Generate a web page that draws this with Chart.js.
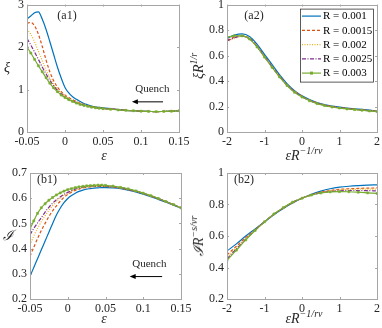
<!DOCTYPE html>
<html>
<head>
<meta charset="utf-8">
<script src="https://cdn.jsdelivr.net/npm/chart.js@4.4.1/dist/chart.umd.min.js"></script>
<style>
  body { margin: 0; background: #fff; }
  #wrap { position: relative; width: 382px; height: 328px; overflow: hidden; font-family: "Liberation Serif", serif; color: #262626; }
  canvas { position: absolute; }
  .lbl { position: absolute; font-size: 12px; white-space: nowrap; line-height: 1; transform: translate(-50%, -50%); }
  .rot { transform: translate(-50%, -50%) rotate(-90deg); }
  .m { font-style: italic; font-size: 14px; }
  .lbl sup { font-size: 10px; vertical-align: 0; position: relative; top: -6px; }
</style>
</head>
<body>
<div id="wrap">
  <canvas id="a1" width="191" height="164" style="left:0;top:0"></canvas>
  <canvas id="a2" width="191" height="164" style="left:191px;top:0"></canvas>
  <canvas id="b1" width="191" height="164" style="left:0;top:164px"></canvas>
  <canvas id="b2" width="191" height="164" style="left:191px;top:164px"></canvas>

  <div class="lbl" style="left:67px;top:15px">(a1)</div>
  <div class="lbl" style="left:254px;top:15px">(a2)</div>
  <div class="lbl" style="left:47px;top:179px">(b1)</div>
  <div class="lbl" style="left:244px;top:179px">(b2)</div>

  <div class="lbl m" style="left:7px;top:68px">ξ</div>
  <div class="lbl m" style="left:104px;top:156px">ε</div>
  <div class="lbl m rot" style="left:199px;top:66px">ξR<sup>1/r</sup></div>
  <div class="lbl m" style="left:304px;top:156px">εR<sup>−1/rν</sup></div>

  <div class="lbl m" style="left:8px;top:236px">ℐ</div>
  <div class="lbl m" style="left:104px;top:319px">ε</div>
  <div class="lbl m rot" style="left:199px;top:236px">ℐR<sup>−s/νr</sup></div>
  <div class="lbl m" style="left:304px;top:319px">εR<sup>−1/rν</sup></div>
</div>
<script>
// series labels and colours (MATLAB default order)
const rLabels = ['R = 0.001', 'R = 0.0015', 'R = 0.002', 'R = 0.0025', 'R = 0.003'];
const colors = ['#0072BD', '#D95319', '#EDB120', '#7E2F8E', '#77AC30'];
const dashes = [[], [3, 2], [1, 1.5], [4, 1.5, 1, 1.5], []];

// (a1) xi vs epsilon
const epsX = [-0.05, -0.045, -0.04, -0.035, -0.03, -0.025, -0.02, -0.015, -0.01, -0.005, 0, 0.005, 0.01, 0.015, 0.02, 0.025, 0.03, 0.035, 0.04, 0.045, 0.05, 0.06, 0.07, 0.08, 0.09, 0.1, 0.11, 0.12, 0.13, 0.14, 0.15];
const a1R1 = [2.66, 2.73, 2.81, 2.83, 2.66, 2.42, 2.13, 1.83, 1.53, 1.27, 1.05, 0.92, 0.83, 0.77, 0.72, 0.67, 0.64, 0.61, 0.59, 0.58, 0.57, 0.55, 0.53, 0.51, 0.5, 0.49, 0.485, 0.48, 0.485, 0.49, 0.5];
const a1R2 = [2.56, 2.58, 2.5, 2.3, 2.02, 1.7, 1.42, 1.21, 1.06, 0.95, 0.87, 0.81, 0.76, 0.72, 0.68, 0.65, 0.62, 0.6, 0.585, 0.57, 0.56, 0.545, 0.53, 0.51, 0.5, 0.49, 0.485, 0.48, 0.485, 0.49, 0.5];
const a1R3 = [2.42, 2.3, 2.12, 1.9, 1.68, 1.46, 1.28, 1.13, 1.01, 0.92, 0.85, 0.79, 0.74, 0.7, 0.67, 0.64, 0.615, 0.595, 0.58, 0.565, 0.555, 0.54, 0.525, 0.51, 0.5, 0.49, 0.485, 0.48, 0.485, 0.49, 0.5];
const a1R4 = [2.2, 2.05, 1.88, 1.71, 1.53, 1.37, 1.22, 1.09, 0.98, 0.9, 0.83, 0.77, 0.73, 0.69, 0.66, 0.63, 0.61, 0.59, 0.575, 0.56, 0.55, 0.54, 0.525, 0.51, 0.5, 0.49, 0.485, 0.48, 0.485, 0.49, 0.5];
const a1R5 = [2.0, 1.86, 1.71, 1.56, 1.42, 1.28, 1.15, 1.04, 0.95, 0.87, 0.81, 0.76, 0.72, 0.68, 0.65, 0.625, 0.605, 0.585, 0.57, 0.56, 0.55, 0.535, 0.52, 0.51, 0.5, 0.49, 0.485, 0.48, 0.485, 0.49, 0.5];

// (a2) scaled xi
const a2X = [-2, -1.8, -1.6, -1.4, -1.2, -1, -0.8, -0.6, -0.4, -0.2, 0, 0.2, 0.4, 0.6, 0.8, 1, 1.2, 1.4, 1.6, 1.8, 2];
const a2R1 = [0.735, 0.76, 0.77, 0.75, 0.69, 0.61, 0.53, 0.45, 0.38, 0.325, 0.285, 0.255, 0.232, 0.215, 0.203, 0.195, 0.188, 0.182, 0.177, 0.171, 0.165];
const a2R2 = [0.72, 0.745, 0.755, 0.735, 0.675, 0.595, 0.515, 0.44, 0.37, 0.318, 0.28, 0.25, 0.228, 0.212, 0.2, 0.192, 0.185, 0.179, 0.174, 0.168, 0.163];
const a2R3 = [0.705, 0.735, 0.75, 0.73, 0.67, 0.59, 0.51, 0.435, 0.368, 0.315, 0.278, 0.248, 0.226, 0.21, 0.198, 0.19, 0.183, 0.178, 0.173, 0.167, 0.162];
const a2R4 = [0.715, 0.74, 0.752, 0.732, 0.672, 0.592, 0.512, 0.436, 0.368, 0.315, 0.277, 0.247, 0.225, 0.209, 0.197, 0.19, 0.183, 0.177, 0.172, 0.166, 0.161];
const a2R5 = [0.745, 0.755, 0.755, 0.73, 0.668, 0.588, 0.508, 0.432, 0.365, 0.312, 0.274, 0.245, 0.223, 0.207, 0.196, 0.188, 0.181, 0.176, 0.171, 0.165, 0.16];

// (b1) I vs epsilon
const b1R1 = [0.29, 0.325, 0.36, 0.395, 0.43, 0.465, 0.5, 0.533, 0.56, 0.582, 0.599, 0.611, 0.62, 0.627, 0.632, 0.636, 0.638, 0.64, 0.641, 0.642, 0.642, 0.641, 0.638, 0.632, 0.625, 0.616, 0.606, 0.595, 0.584, 0.572, 0.56];
const b1R2 = [0.37, 0.405, 0.44, 0.472, 0.5, 0.527, 0.55, 0.57, 0.588, 0.603, 0.615, 0.624, 0.631, 0.636, 0.64, 0.643, 0.645, 0.646, 0.647, 0.647, 0.646, 0.644, 0.64, 0.634, 0.627, 0.618, 0.608, 0.597, 0.586, 0.574, 0.561];
const b1R3 = [0.415, 0.45, 0.48, 0.507, 0.53, 0.551, 0.57, 0.587, 0.6, 0.611, 0.62, 0.628, 0.634, 0.638, 0.642, 0.645, 0.647, 0.648, 0.648, 0.648, 0.647, 0.645, 0.641, 0.635, 0.628, 0.619, 0.609, 0.598, 0.586, 0.574, 0.561];
const b1R4 = [0.455, 0.48, 0.502, 0.523, 0.545, 0.564, 0.58, 0.594, 0.605, 0.615, 0.623, 0.63, 0.636, 0.64, 0.644, 0.646, 0.648, 0.649, 0.649, 0.649, 0.648, 0.646, 0.642, 0.636, 0.629, 0.62, 0.61, 0.599, 0.587, 0.575, 0.562];
const b1R5 = [0.478, 0.51, 0.54, 0.562, 0.578, 0.592, 0.603, 0.613, 0.621, 0.628, 0.634, 0.638, 0.642, 0.645, 0.647, 0.649, 0.65, 0.651, 0.652, 0.652, 0.651, 0.648, 0.643, 0.637, 0.629, 0.62, 0.61, 0.599, 0.587, 0.575, 0.562];

// (b2) scaled I
const b2X = [-2, -1.75, -1.5, -1.25, -1, -0.75, -0.5, -0.25, 0, 0.25, 0.5, 0.75, 1, 1.25, 1.5, 1.75, 2];
const b2R1 = [0.505, 0.55, 0.6, 0.645, 0.69, 0.735, 0.775, 0.81, 0.84, 0.865, 0.885, 0.9, 0.91, 0.916, 0.92, 0.923, 0.925];
const b2R2 = [0.48, 0.535, 0.59, 0.64, 0.69, 0.737, 0.777, 0.812, 0.84, 0.862, 0.878, 0.889, 0.896, 0.9, 0.902, 0.904, 0.905];
const b2R3 = [0.465, 0.525, 0.583, 0.638, 0.69, 0.738, 0.778, 0.813, 0.84, 0.861, 0.876, 0.886, 0.892, 0.895, 0.897, 0.898, 0.898];
const b2R4 = [0.455, 0.518, 0.579, 0.636, 0.69, 0.739, 0.779, 0.814, 0.84, 0.86, 0.874, 0.882, 0.887, 0.889, 0.889, 0.888, 0.886];
const b2R5 = [0.445, 0.51, 0.575, 0.635, 0.69, 0.74, 0.78, 0.815, 0.84, 0.86, 0.873, 0.88, 0.882, 0.881, 0.878, 0.874, 0.87];

const tickFont = { family: 'Liberation Serif', size: 12 };

const makeDatasets = (xs, series) => series.map((ys, i) => ({
  label: rLabels[i],
  data: xs.map((x, j) => ({ x, y: ys[j] })),
  borderColor: colors[i],
  backgroundColor: colors[i],
  borderWidth: 1.2,
  borderDash: dashes[i],
  pointRadius: i === 4 ? 1.4 : 0,
  pointStyle: 'rect',
  pointBorderWidth: 0.6,
  cubicInterpolationMode: 'monotone',
  order: 4 - i,
}));

const makeScale = (axis, min, max, step, size) => ({
  type: 'linear',
  min, max,
  grid: { display: false, drawTicks: false },
  border: { display: false },
  ticks: {
    stepSize: step, color: '#262626', font: tickFont, padding: 3, maxRotation: 0, autoSkip: false,
    callback: (v) => String(+v.toFixed(3)),
  },
  afterFit: (s) => {
    if (axis === 'x') s.height = size; else s.width = size;
    s.paddingTop = 0; s.paddingBottom = 0; s.paddingLeft = 0; s.paddingRight = 0;
  },
});

// box with inward ticks, optional quench arrow and legend
const extrasPlugin = (extra) => ({
  id: 'extras',
  afterDatasetsDraw(chart) {
    const { ctx, chartArea: a, scales } = chart;
    const xs = scales.x, ys = scales.y;
    ctx.save();
    ctx.strokeStyle = '#a6a6a6';
    ctx.lineWidth = 1;
    ctx.strokeRect(Math.round(a.left) + 0.5, Math.round(a.top) + 0.5, Math.round(a.right - a.left), Math.round(a.bottom - a.top));
    ctx.beginPath();
    xs.ticks.forEach(t => {
      const p = Math.round(xs.getPixelForValue(t.value)) + 0.5;
      ctx.moveTo(p, a.bottom); ctx.lineTo(p, a.bottom - 2);
      ctx.moveTo(p, a.top); ctx.lineTo(p, a.top + 2);
    });
    ys.ticks.forEach(t => {
      const p = Math.round(ys.getPixelForValue(t.value)) + 0.5;
      ctx.moveTo(a.left, p); ctx.lineTo(a.left + 2, p);
      ctx.moveTo(a.right, p); ctx.lineTo(a.right - 2, p);
    });
    ctx.stroke();

    if (extra.quench) {
      const q = extra.quench;
      const x1 = xs.getPixelForValue(q.x1), x2 = xs.getPixelForValue(q.x2), y = ys.getPixelForValue(q.y);
      ctx.strokeStyle = '#000';
      ctx.fillStyle = '#000';
      ctx.lineWidth = 1;
      ctx.beginPath(); ctx.moveTo(x1, y); ctx.lineTo(x2 + 4, y); ctx.stroke();
      ctx.beginPath(); ctx.moveTo(x2, y); ctx.lineTo(x2 + 6, y - 2.5); ctx.lineTo(x2 + 6, y + 2.5); ctx.closePath(); ctx.fill();
      ctx.font = '11px "Liberation Serif"';
      ctx.fillStyle = '#262626';
      ctx.textAlign = 'center';
      ctx.textBaseline = 'middle';
      ctx.fillText('Quench', xs.getPixelForValue(q.tx), ys.getPixelForValue(q.ty));
    }

    if (extra.legend) {
      const w = 73, h = 73;
      const left = a.right - 4 - w, top = a.top + 4;
      ctx.fillStyle = '#fff';
      ctx.fillRect(left, top, w, h);
      ctx.strokeStyle = '#333';
      ctx.lineWidth = 0.8;
      ctx.strokeRect(left + 0.5, top + 0.5, w, h);
      ctx.font = '11px "Liberation Serif"';
      ctx.textAlign = 'left';
      ctx.textBaseline = 'middle';
      rLabels.forEach((lab, i) => {
        const y = top + 7.5 + i * 14.25;
        ctx.strokeStyle = colors[i];
        ctx.lineWidth = 1.2;
        ctx.setLineDash(dashes[i]);
        ctx.beginPath(); ctx.moveTo(left + 2, y); ctx.lineTo(left + 21, y); ctx.stroke();
        ctx.setLineDash([]);
        if (i === 4) {
          ctx.fillStyle = colors[i];
          ctx.fillRect(left + 10, y - 1.5, 3, 3);
        }
        ctx.fillStyle = '#000';
        ctx.fillText(lab, left + 23, y + 0.5);
      });
    }
    ctx.restore();
  },
});

const makeChart = (id, xs, series, sx, sy, pad, extra) => new Chart(document.getElementById(id), {
  type: 'line',
  data: { datasets: makeDatasets(xs, series) },
  options: {
    responsive: false,
    animation: false,
    layout: { padding: pad },
    plugins: { legend: { display: false }, tooltip: { enabled: false } },
    scales: { x: sx, y: sy },
  },
  plugins: [extrasPlugin(extra)],
});

makeChart('a1', epsX, [a1R1, a1R2, a1R3, a1R4, a1R5],
  makeScale('x', -0.05, 0.15, 0.05, 32), makeScale('y', 0, 3, 1, 27),
  { top: 4, right: 12, left: 0, bottom: 0 },
  { quench: { x1: 0.129, x2: 0.088, y: 0.71, tx: 0.115, ty: 1.0 } });

makeChart('a2', a2X, [a2R1, a2R2, a2R3, a2R4, a2R5],
  makeScale('x', -2, 2, 1, 32), makeScale('y', 0, 1, 0.2, 36),
  { top: 4, right: 5, left: 0, bottom: 0 },
  { legend: true });

makeChart('b1', epsX, [b1R1, b1R2, b1R3, b1R4, b1R5],
  makeScale('x', -0.05, 0.15, 0.05, 29), makeScale('y', 0.2, 0.7, 0.1, 30),
  { top: 9, right: 10, left: 0, bottom: 0 },
  { quench: { x1: 0.125, x2: 0.082, y: 0.289, tx: 0.108, ty: 0.338 } });

makeChart('b2', b2X, [b2R1, b2R2, b2R3, b2R4, b2R5],
  makeScale('x', -2, 2, 1, 29), makeScale('y', 0.2, 1, 0.2, 36),
  { top: 9, right: 5, left: 0, bottom: 0 },
  {});
</script>
</body>
</html>
